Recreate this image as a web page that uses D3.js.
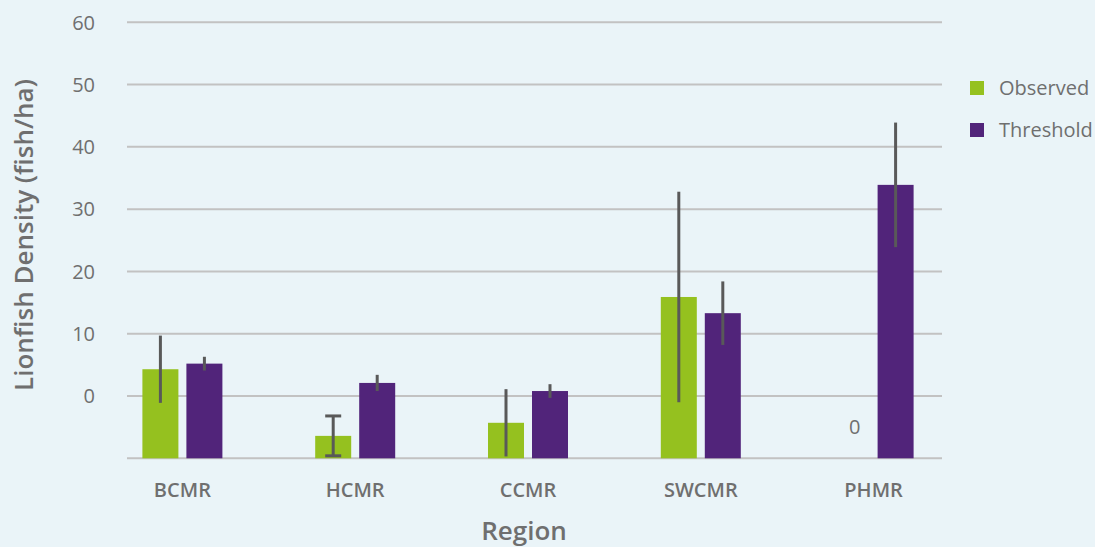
<!DOCTYPE html>
<html>
<head>
<meta charset="utf-8">
<script src="https://cdn.jsdelivr.net/npm/d3@7"></script>
<style>
  body { margin: 0; background: #eaf4f8; }
  svg { display: block; font-family: "Open Sans", "Noto Sans", sans-serif; }
</style>
</head>
<body>
<script>
// data
var regions = ["BCMR", "HCMR", "CCMR", "SWCMR", "PHMR"];
var observed = [14.3, 3.6, 5.7, 25.9, 0];
var observedErr = [5.4, 3.2, 5.4, 16.9, 0];
var observedCaps = [false, true, false, false, false];
var threshold = [15.2, 12.1, 10.8, 23.3, 43.9];
var thresholdErr = [1.1, 1.3, 1.1, 5.1, 10];
var tickValues = [0, 10, 20, 30, 40, 50, 60, 70];
var tickLabels = ["", "0", "10", "20", "30", "40", "50", "60"];

var width = 1095, height = 547;
var green = "#95c11f", purple = "#51247a";
var textColor = "#6f6f6f";

var svg = d3.select("body").append("svg")
    .attr("width", width)
    .attr("height", height);

var y = d3.scaleLinear().domain([0, 70]).range([458.3, 22.3]);
var x = d3.scaleBand().domain(regions).range([96, 960]);

// gridlines
svg.append("g").selectAll("line")
    .data(tickValues).enter()
    .append("line")
    .attr("x1", 127).attr("x2", 942)
    .attr("y1", function(d) { return y(d); })
    .attr("y2", function(d) { return y(d); })
    .attr("stroke", "#c2c2c2")
    .attr("stroke-width", 2);

// y tick labels
svg.append("g").selectAll("text")
    .data(tickValues).enter()
    .append("text")
    .attr("x", 95)
    .attr("y", function(d) { return y(d); })
    .attr("dy", "0.36em")
    .attr("text-anchor", "end")
    .attr("fill", textColor)
    .attr("font-size", 20)
    .text(function(d, i) { return tickLabels[i]; });

var barW = 36, gap = 8;
var series = [
    {name: "Observed", vals: observed, err: observedErr, caps: observedCaps, color: green, off: -gap / 2 - barW},
    {name: "Threshold", vals: threshold, err: thresholdErr, caps: [false, false, false, false, false], color: purple, off: gap / 2}
];

series.forEach(function(s) {
    var g = svg.append("g");
    var cx = function(i) { return x(regions[i]) + x.bandwidth() / 2 + s.off; };

    g.selectAll("rect")
        .data(s.vals).enter()
        .append("rect")
        .attr("x", function(d, i) { return cx(i); })
        .attr("y", function(d) { return y(d); })
        .attr("width", barW)
        .attr("height", function(d) { return y(0) - y(d); })
        .attr("fill", s.color);

    // error bars
    s.vals.forEach(function(v, i) {
        if (v === 0) {
            g.append("text")
                .attr("x", cx(i) + barW / 2 + 3)
                .attr("y", y(v) - 24)
                .attr("text-anchor", "middle")
                .attr("fill", textColor)
                .attr("font-size", 20)
                .text("0");
            return;
        }
        var mx = cx(i) + barW / 2;
        g.append("line")
            .attr("x1", mx).attr("x2", mx)
            .attr("y1", y(v + s.err[i])).attr("y2", y(v - s.err[i]))
            .attr("stroke", "#595959")
            .attr("stroke-width", 3);
        if (s.caps[i]) {
            [v + s.err[i], v - s.err[i]].forEach(function(e) {
                g.append("line")
                    .attr("x1", mx - 8).attr("x2", mx + 8)
                    .attr("y1", y(e)).attr("y2", y(e))
                    .attr("stroke", "#595959")
                    .attr("stroke-width", 3);
            });
        }
    });
});

// x labels
svg.append("g").selectAll("text")
    .data(regions).enter()
    .append("text")
    .attr("x", function(d) { return x(d) + x.bandwidth() / 2; })
    .attr("y", 497)
    .attr("text-anchor", "middle")
    .attr("fill", textColor)
    .attr("font-size", 20)
    .attr("font-weight", 600)
    .text(function(d) { return d; });

// axis titles
svg.append("text")
    .attr("x", 524).attr("y", 540)
    .attr("text-anchor", "middle")
    .attr("fill", textColor)
    .attr("font-size", 26)
    .attr("font-weight", 600)
    .text("Region");

svg.append("text")
    .attr("transform", "translate(33,235) rotate(-90)")
    .attr("text-anchor", "middle")
    .attr("fill", textColor)
    .attr("font-size", 26)
    .attr("font-weight", 600)
    .text("Lionfish Density (fish/ha)");

// legend
var legend = svg.append("g").selectAll("g")
    .data(series).enter()
    .append("g")
    .attr("transform", function(d, i) { return "translate(970," + (81 + i * 42) + ")"; });

legend.append("rect")
    .attr("width", 14).attr("height", 14)
    .attr("fill", function(d) { return d.color; });

legend.append("text")
    .attr("x", 29).attr("y", 7)
    .attr("dy", "0.36em")
    .attr("fill", textColor)
    .attr("font-size", 20)
    .text(function(d) { return d.name; });
</script>
</body>
</html>
